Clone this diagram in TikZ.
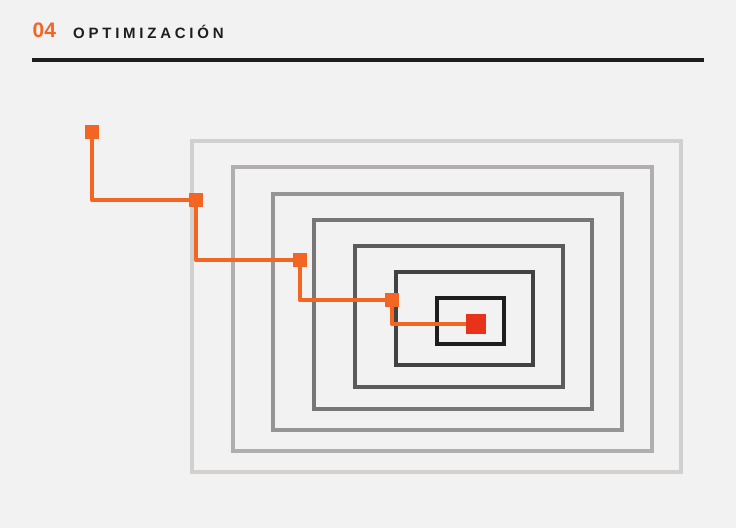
\documentclass[tikz,border=0pt]{standalone}
\usepackage{fontspec}
\setmainfont{Liberation Sans}
\newfontfamily\spaced[LetterSpace=25]{Liberation Sans}
\definecolor{bg}{HTML}{F2F2F2}
\definecolor{orng}{HTML}{F26522}
\definecolor{redsq}{HTML}{E8321A}
\definecolor{ink}{HTML}{1E1E1E}
\begin{document}
\begin{tikzpicture}[x=1pt,y=-1pt,
  ring/.style={line width=3.5pt},
  pathline/.style={draw=orng,line width=4pt,line join=round,line cap=round},
  marker/.style={fill=orng,minimum size=14pt,inner sep=0pt,outer sep=0pt},
  goal/.style={fill=redsq,minimum size=20pt,inner sep=0pt,outer sep=0pt}]
\fill[bg] (0,0) rectangle (736,528);
\useasboundingbox (0,0) rectangle (736,528);
% header
\node[anchor=base west,inner sep=0pt,text=orng,font=\bfseries\fontsize{21}{21}\selectfont] (num) at (32.5,37.5) {04};
\node[anchor=base west,inner sep=0pt,text=ink,font=\spaced\bfseries\fontsize{15}{15}\selectfont] (title) at (73,38) {OPTIMIZACIÓN};
\draw[ink,line width=4pt] (32,60) -- (704,60);
% rings
\draw[ring,draw={rgb,255:red,210;green,207;blue,207}] (192,141) rectangle (681,472);
\draw[ring,draw={rgb,255:red,176;green,174;blue,174}] (233,167) rectangle (652,451);
\draw[ring,draw={rgb,255:red,150;green,148;blue,148}] (273,194) rectangle (622,430);
\draw[ring,draw={rgb,255:red,120;green,118;blue,118}] (314,220) rectangle (592,409);
\draw[ring,draw={rgb,255:red,92;green,90;blue,90}] (355,246) rectangle (563,387);
\draw[ring,draw={rgb,255:red,66;green,66;blue,66}] (396,272) rectangle (533,365);
\draw[ring,draw={rgb,255:red,30;green,30;blue,30}] (437,298) rectangle (504,344);
% path
\coordinate (p1) at (92,132);
\coordinate (p2) at (196,200);
\coordinate (p3) at (300,260);
\coordinate (p4) at (392,300);
\coordinate (p5) at (476,324);
\draw[pathline] (p1) |- (p2) |- (p3) |- (p4) |- (p5);
\node[marker] (m1) at (p1) {};
\node[marker] (m2) at (p2) {};
\node[marker] (m3) at (p3) {};
\node[marker] (m4) at (p4) {};
\node[goal] (g) at (p5) {};
\end{tikzpicture}
\end{document}
